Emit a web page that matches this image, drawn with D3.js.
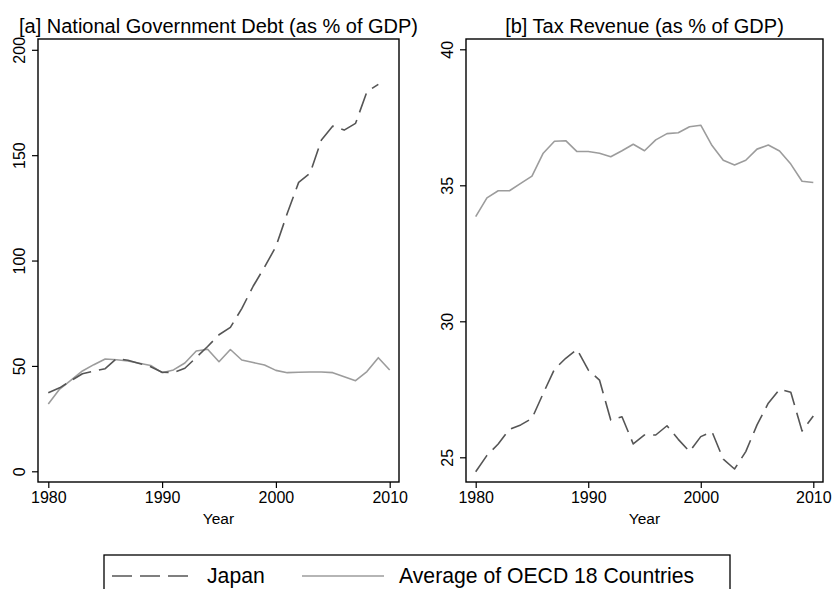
<!DOCTYPE html>
<html>
<head>
<meta charset="utf-8">
<script src="https://cdn.jsdelivr.net/npm/d3@7"></script>
<style>
  html, body { margin: 0; padding: 0; background: #fff; }
  svg { display: block; font-family: "Liberation Sans", Arial, Helvetica, sans-serif; }
</style>
</head>
<body>
<svg id="chart" width="833" height="589"></svg>
<script>
// Years covered by the series
const years = d3.range(1980, 2011);

// [a] National government debt, % of GDP (Japan series ends in 2009)
const japanDebt = [37.3, 39.6, 43.0, 46.3, 47.5, 48.7, 53.5, 52.7, 51.2, 49.6,
                   47.0, 46.9, 48.9, 54.0, 59.2, 64.8, 68.3, 77.2, 87.8, 96.9,
                   106.6, 122.4, 137.1, 141.4, 157.2, 163.8, 161.9, 165.1, 180.1, 183.6];
const oecdDebt = [31.9, 39.0, 43.3, 47.6, 50.6, 53.3, 52.9, 52.3, 51.3, 50.2,
                  46.8, 48.1, 51.4, 57.1, 57.9, 52.0, 57.8, 52.8, 51.6, 50.4,
                  47.9, 46.8, 47.0, 47.1, 47.1, 46.8, 44.9, 43.0, 47.3, 53.9, 48.1];

// [b] Tax revenue, % of GDP
const japanTax = [24.47, 25.07, 25.49, 26.03, 26.19, 26.43, 27.35, 28.24, 28.64, 28.97,
                  28.21, 27.84, 26.37, 26.49, 25.49, 25.82, 25.82, 26.16, 25.66, 25.21,
                  25.76, 25.94, 24.93, 24.57, 25.21, 26.19, 26.99, 27.50, 27.39, 25.97, 26.52];
const oecdTax = [33.85, 34.54, 34.80, 34.80, 35.07, 35.34, 36.18, 36.62, 36.64, 36.24,
                 36.24, 36.18, 36.05, 36.27, 36.51, 36.27, 36.67, 36.90, 36.93, 37.15,
                 37.21, 36.46, 35.92, 35.75, 35.92, 36.33, 36.48, 36.26, 35.78, 35.15, 35.10];

// Axis tick labels
const yearTicks = [1980, 1990, 2000, 2010];
const debtTicks = [0, 50, 100, 150, 200];
const taxTicks = [25, 30, 35, 40];

const seriesNames = ["Japan", "Average of OECD 18 Countries"];
const titles = ["[a] National Government Debt (as % of GDP)", "[b] Tax Revenue (as % of GDP)"];

const JAPAN_COLOR = "#555555";
const OECD_COLOR = "#9c9c9c";
const DASH = "20,8";

const svg = d3.select("#chart");

function drawPanel(cfg) {
  const g = svg.append("g");
  const x = d3.scaleLinear().domain([1980, 2010]).range(cfg.xRange);
  const y = d3.scaleLinear().domain(cfg.yDomain).range(cfg.yRange);

  // title
  g.append("text")
    .attr("x", (cfg.frame.x0 + cfg.frame.x1) / 2)
    .attr("y", 33)
    .attr("text-anchor", "middle")
    .attr("font-size", 20)
    .attr("fill", "#000")
    .text(cfg.title);

  // series
  const line = d3.line()
    .x((d, i) => x(years[i]))
    .y(d => y(d));

  g.append("path")
    .datum(cfg.oecd)
    .attr("d", line)
    .attr("fill", "none")
    .attr("stroke", OECD_COLOR)
    .attr("stroke-width", 1.6)
    .attr("stroke-linejoin", "round");

  g.append("path")
    .datum(cfg.japan)
    .attr("d", line)
    .attr("fill", "none")
    .attr("stroke", JAPAN_COLOR)
    .attr("stroke-width", 1.6)
    .attr("stroke-dasharray", DASH)
    .attr("stroke-linejoin", "round");

  // frame
  g.append("rect")
    .attr("x", cfg.frame.x0)
    .attr("y", cfg.frame.y0)
    .attr("width", cfg.frame.x1 - cfg.frame.x0)
    .attr("height", cfg.frame.y1 - cfg.frame.y0)
    .attr("fill", "none")
    .attr("stroke", "#000")
    .attr("stroke-width", 1.4);

  // bottom axis
  const xAxis = g.append("g")
    .attr("transform", `translate(0,${cfg.frame.y1})`)
    .call(d3.axisBottom(x).tickValues(yearTicks).tickFormat(d3.format("d")).tickSize(6).tickSizeOuter(0));
  xAxis.select(".domain").remove();
  xAxis.selectAll("line").attr("stroke", "#000").attr("stroke-width", 1.2);
  xAxis.selectAll("text")
    .attr("y", 21).attr("dy", null)
    .attr("font-size", 16)
    .attr("font-family", "'Liberation Sans', Arial, sans-serif")
    .attr("fill", "#000");

  // left axis with rotated labels
  const yAxis = g.append("g")
    .attr("transform", `translate(${cfg.frame.x0},0)`)
    .call(d3.axisLeft(y).tickValues(cfg.yTicks).tickSize(6).tickSizeOuter(0));
  yAxis.select(".domain").remove();
  yAxis.selectAll("line").attr("stroke", "#000").attr("stroke-width", 1.2);
  yAxis.selectAll("text")
    .attr("x", null).attr("dy", null)
    .attr("text-anchor", "middle")
    .attr("transform", "translate(-13,0) rotate(-90)")
    .attr("font-size", 16)
    .attr("font-family", "'Liberation Sans', Arial, sans-serif")
    .attr("fill", "#000");

  // x axis title
  g.append("text")
    .attr("x", (cfg.frame.x0 + cfg.frame.x1) / 2)
    .attr("y", 524)
    .attr("text-anchor", "middle")
    .attr("font-size", 15.5)
    .attr("fill", "#000")
    .text("Year");
}

drawPanel({
  title: titles[0],
  frame: { x0: 38, x1: 399, y0: 39, y1: 482 },
  xRange: [48.3, 389.7],
  yDomain: [0, 200],
  yRange: [471.3, 49.8],
  yTicks: debtTicks,
  japan: japanDebt,
  oecd: oecdDebt
});

drawPanel({
  title: titles[1],
  frame: { x0: 466, x1: 823, y0: 39, y1: 482 },
  xRange: [475.7, 813.3],
  yDomain: [25, 40],
  yRange: [457.3, 49.3],
  yTicks: taxTicks,
  japan: japanTax,
  oecd: oecdTax
});

// legend
const legend = svg.append("g");
legend.append("rect")
  .attr("x", 104).attr("y", 555)
  .attr("width", 626).attr("height", 60)
  .attr("fill", "none")
  .attr("stroke", "#000")
  .attr("stroke-width", 1.3);

const legendItems = [
  { name: seriesNames[0], color: JAPAN_COLOR, dash: DASH, x0: 112, x1: 188, tx: 207 },
  { name: seriesNames[1], color: OECD_COLOR, dash: null, x0: 302, x1: 384, tx: 399 }
];
legendItems.forEach(it => {
  legend.append("line")
    .attr("x1", it.x0).attr("x2", it.x1)
    .attr("y1", 576).attr("y2", 576)
    .attr("stroke", it.color)
    .attr("stroke-width", 1.6)
    .attr("stroke-dasharray", it.dash);
  legend.append("text")
    .attr("x", it.tx).attr("y", 583)
    .attr("font-size", 21.2)
    .attr("fill", "#000")
    .text(it.name);
});
</script>
</body>
</html>
